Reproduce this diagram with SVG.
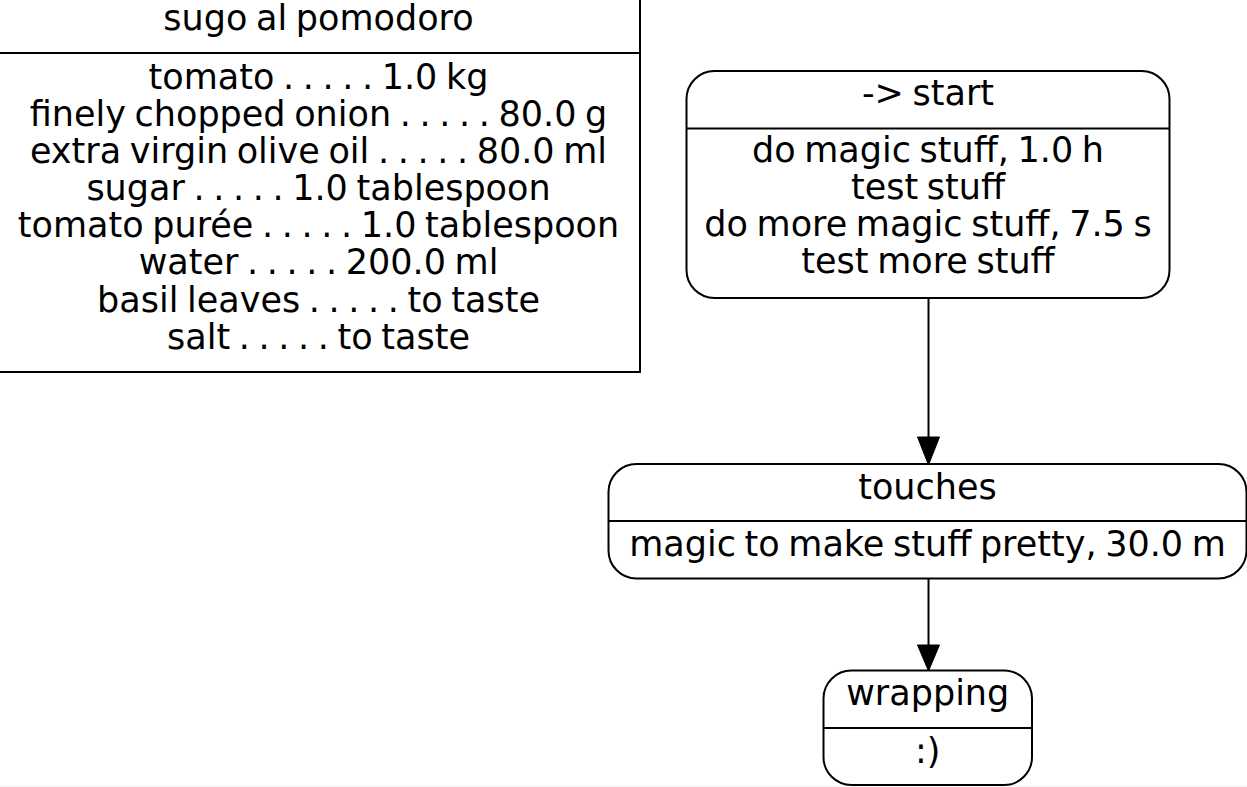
<svg xmlns="http://www.w3.org/2000/svg" width="1247" height="787" viewBox="0 0 1247 787">
<style>
.t{font-family:"DejaVu Sans","Liberation Sans",sans-serif;font-size:35px;word-spacing:-2.5px;fill:#000;text-anchor:middle}
.b{fill:#fff;stroke:#000;stroke-width:2}
.l{stroke:#000;stroke-width:2;fill:none}
.a{fill:#000;stroke:#000;stroke-width:1}
</style>
<rect width="1247" height="787" fill="#fff"/>
<line x1="0" y1="786" x2="1247" y2="786" stroke="#eee" stroke-width="1"/>
<g id="connectors">
<line class="l" x1="928.5" y1="298" x2="928.5" y2="437"/>
<path class="a" d="M917.5,437 L939.5,437 L928.5,465 Z"/>
<line class="l" x1="928.5" y1="579" x2="928.5" y2="645"/>
<path class="a" d="M917.5,645 L939.5,645 L928.5,671 Z"/>
</g>
<g id="recipe">
<rect class="b" x="-3" y="-60" width="643" height="432"/>
<line class="l" x1="-3" y1="53" x2="640" y2="53"/>
<text class="t" x="318.5" y="30">sugo al pomodoro</text>
<text class="t" x="318.5" y="88.5">tomato . . . . . 1.0 kg</text>
<text class="t" x="318.5" y="125.7">finely chopped onion . . . . . 80.0 g</text>
<text class="t" x="318.5" y="162.9">extra virgin olive oil . . . . . 80.0 ml</text>
<text class="t" x="318.5" y="200">sugar . . . . . 1.0 tablespoon</text>
<text class="t" x="318.5" y="237.2">tomato purée . . . . . 1.0 tablespoon</text>
<text class="t" x="318.5" y="274.3">water . . . . . 200.0 ml</text>
<text class="t" x="318.5" y="311.5">basil leaves . . . . . to taste</text>
<text class="t" x="318.5" y="348.6">salt . . . . . to taste</text>
</g>
<g id="start">
<rect class="b" x="686.5" y="71" width="483" height="227" rx="28" ry="28"/>
<line class="l" x1="686.5" y1="128.5" x2="1169.5" y2="128.5"/>
<text class="t" x="928" y="105">-&gt; start</text>
<text class="t" x="928" y="162">do magic stuff, 1.0 h</text>
<text class="t" x="928" y="199">test stuff</text>
<text class="t" x="928" y="236">do more magic stuff, 7.5 s</text>
<text class="t" x="928" y="273">test more stuff</text>
</g>
<g id="touches">
<rect class="b" x="608.5" y="464" width="638" height="114.5" rx="28" ry="28"/>
<line class="l" x1="608.5" y1="521" x2="1246.5" y2="521"/>
<text class="t" x="927.5" y="498.5">touches</text>
<text class="t" x="927.5" y="556">magic to make stuff pretty, 30.0 m</text>
</g>
<g id="wrapping">
<rect class="b" x="823.5" y="670.5" width="208.5" height="114.5" rx="28" ry="28"/>
<line class="l" x1="823.5" y1="728" x2="1032" y2="728"/>
<text class="t" x="927.75" y="705">wrapping</text>
<text class="t" x="927.75" y="763">:)</text>
</g>
</svg>
